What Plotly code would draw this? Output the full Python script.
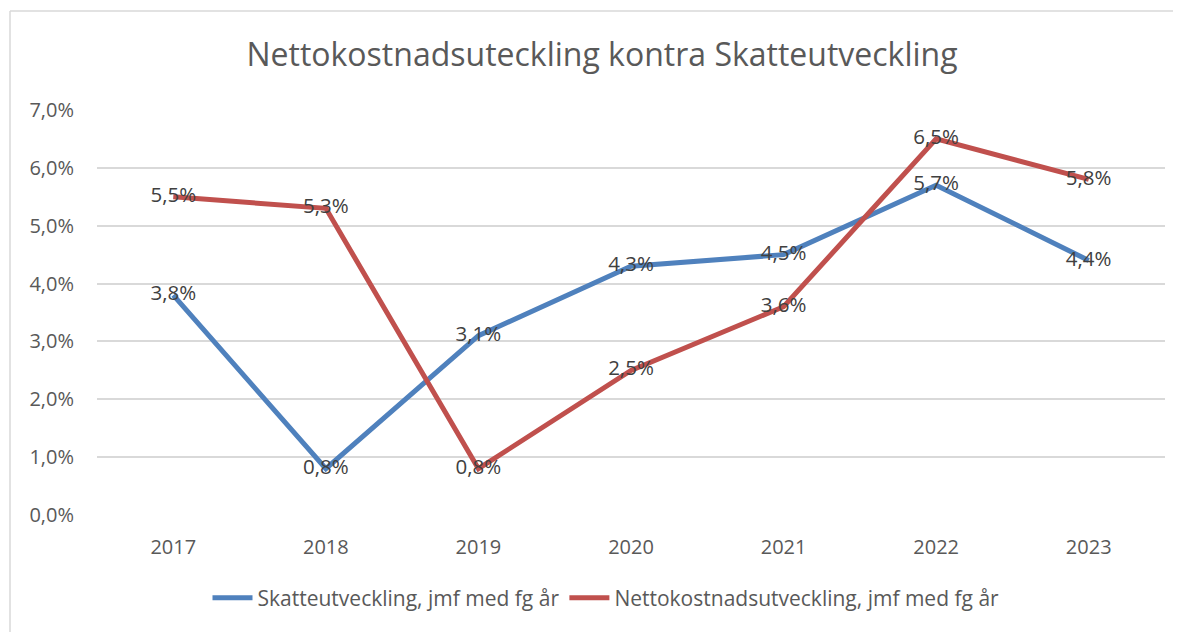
import plotly.graph_objects as go

years = ["2017", "2018", "2019", "2020", "2021", "2022", "2023"]
skatt = [3.8, 0.8, 3.1, 4.3, 4.5, 5.7, 4.4]
netto = [5.5, 5.3, 0.8, 2.5, 3.6, 6.5, 5.8]
names = ["Skatteutveckling, jmf med fg år", "Nettokostnadsutveckling, jmf med fg år"]
colors = ["#4F81BD", "#C0504D"]
title = "Nettokostnadsuteckling kontra Skatteutveckling"
yticks = [0, 1, 2, 3, 4, 5, 6, 7]

def fmt(v):
    return f"{v:.1f}".replace(".", ",") + "%"

FONT = "Open Sans"
O = 8  # default body margin of the html page
fig = go.Figure()
for vals, name, col in zip([skatt, netto], names, colors):
    fig.add_trace(go.Scatter(
        x=years, y=vals, name=name, mode="lines+text",
        line=dict(color=col, width=5),
        text=[fmt(v) for v in vals], textposition="middle center",
        textfont=dict(family=FONT, size=20.5, color="#404040"),
        cliponaxis=False,
    ))

W, H = 1181 - O, 632 - O
ml, mr, mt, mb = 97 - O, 1181 - 1165, 110 - O, 632 - 515
pw, ph = W - ml - mr, H - mt - mb

def px(x):
    return (x - 97) / pw

def py(y):
    return (515 - y) / ph

border = dict(color="#D9D9D9", width=1.5)
fig.update_layout(
    width=W, height=H,
    margin=dict(l=ml, r=mr, t=mt, b=mb),
    paper_bgcolor="white", plot_bgcolor="white",
    font=dict(family=FONT, color="#595959"),
    title=dict(text=title, x=(602 - O) / W, xanchor="center", xref="container",
               y=1 - (55 - O) / H, yanchor="middle", yref="container",
               font=dict(size=32, color="#595959", family=FONT)),
    xaxis=dict(type="category", range=[-0.5, 6.5], showgrid=False, showline=False,
               zeroline=False, ticks="", tickfont=dict(size=20, color="#595959"),
               ticklabelstandoff=18),
    yaxis=dict(range=[0, 7], tickvals=yticks, ticktext=[fmt(v) for v in yticks],
               showgrid=True, gridcolor="#D9D9D9", gridwidth=1.5, zeroline=False,
               showline=False, ticks="", tickfont=dict(size=20, color="#595959"),
               ticklabelstandoff=22),
    showlegend=True,
    legend=dict(orientation="h", x=px(606), xanchor="center",
                y=py(598), yanchor="middle",
                font=dict(size=21, color="#595959", family=FONT),
                itemwidth=40, tracegroupgap=0),
    shapes=[
        dict(type="line", xref="paper", yref="paper",
             x0=px(10), x1=px(10), y0=py(640), y1=py(11), line=border, layer="below"),
        dict(type="line", xref="paper", yref="paper",
             x0=px(10), x1=px(1181), y0=py(11), y1=py(11), line=border, layer="below"),
    ],
)
fig.write_html(
    "out.html",
    post_script="document.documentElement.style.overflow='hidden';"
                "document.body.style.overflow='hidden';",
)
